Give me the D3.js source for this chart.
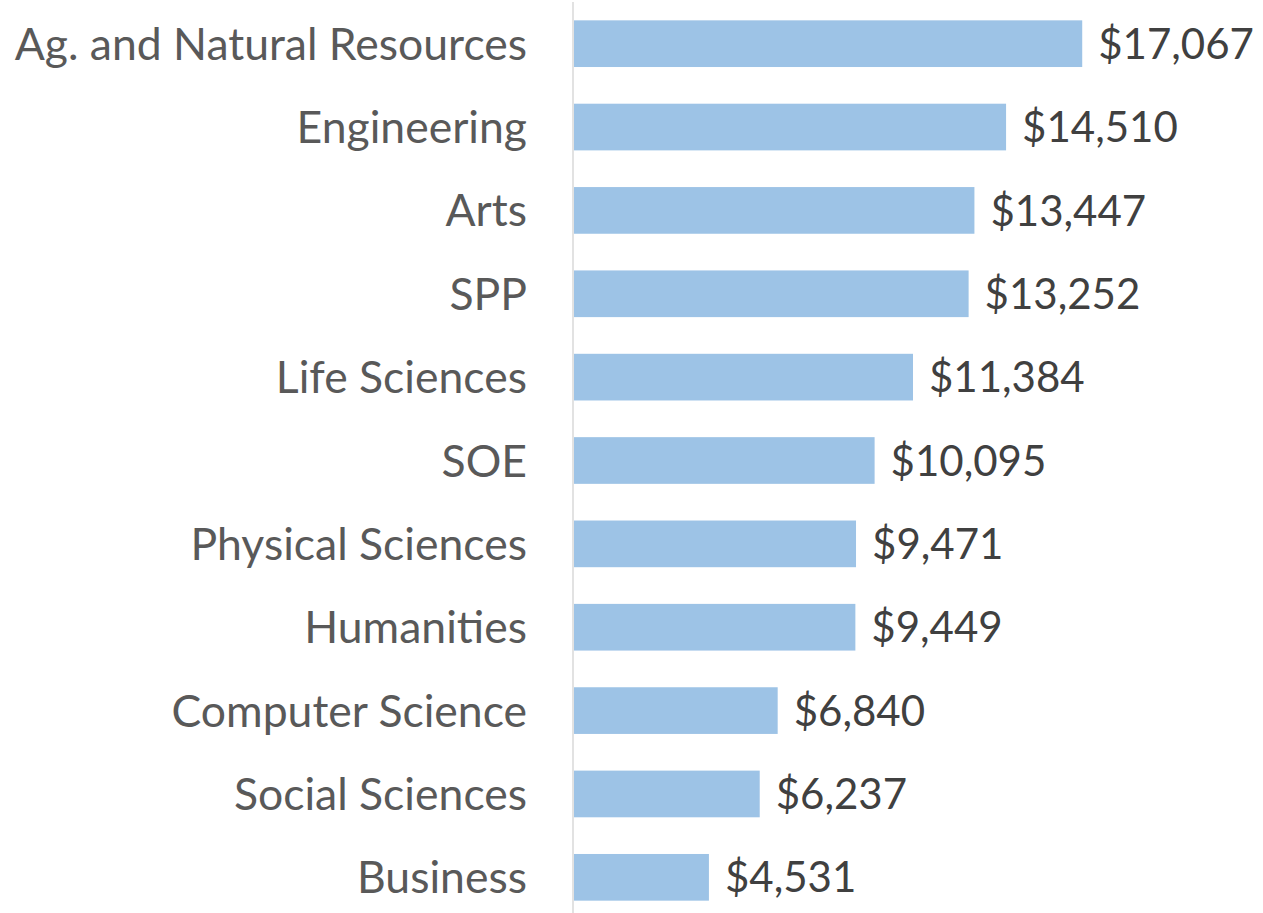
<!DOCTYPE html>
<html>
<head>
<meta charset="utf-8">
<script src="https://cdn.jsdelivr.net/npm/d3@7"></script>
<style>
  body { margin: 0; background: #fff; }
  svg { display: block; }
</style>
</head>
<body>
<svg id="chart" width="1263" height="913"></svg>
<script>
const categories = ["Ag. and Natural Resources", "Engineering", "Arts", "SPP", "Life Sciences",
  "SOE", "Physical Sciences", "Humanities", "Computer Science", "Social Sciences", "Business"];
const values = [17067, 14510, 13447, 13252, 11384, 10095, 9471, 9449, 6840, 6237, 4531];

const width = 1263, height = 913;
const fontFamily = "Lato, 'Open Sans', sans-serif";

const svg = d3.select("#chart");

const x = d3.scaleLinear().domain([0, 18000]).range([574, 1110]);
const y = d3.scaleBand().domain(categories).range([2, 919])
  .paddingInner(0.44).paddingOuter(0.22);

const data = categories.map((c, i) => ({ cat: c, val: values[i] }));

svg.selectAll("rect.bar")
  .data(data)
  .enter().append("rect")
    .attr("class", "bar")
    .attr("x", x(0))
    .attr("y", d => y(d.cat))
    .attr("width", d => x(d.val) - x(0))
    .attr("height", y.bandwidth())
    .attr("fill", "#9dc3e6");

// vertical axis line
svg.append("line")
  .attr("x1", x(0) - 1).attr("x2", x(0) - 1)
  .attr("y1", 2).attr("y2", height)
  .attr("stroke", "#d9d9d9")
  .attr("stroke-width", 1.5);

const fmt = d3.format(",");

svg.selectAll("text.cat")
  .data(data)
  .enter().append("text")
    .attr("class", "cat")
    .attr("x", 527)
    .attr("y", d => y(d.cat) + y.bandwidth() / 2)
    .attr("dy", "0.36em")
    .attr("text-anchor", "end")
    .attr("font-family", fontFamily)
    .attr("font-size", 44.5)
    .attr("fill", "#595959")
    .text(d => d.cat);

svg.selectAll("text.val")
  .data(data)
  .enter().append("text")
    .attr("class", "val")
    .attr("x", d => x(d.val) + 16)
    .attr("y", d => y(d.cat) + y.bandwidth() / 2)
    .attr("dy", "0.36em")
    .attr("font-family", fontFamily)
    .attr("font-size", 42)
    .attr("fill", "#404040")
    .text(d => "$" + fmt(d.val));
</script>
</body>
</html>
